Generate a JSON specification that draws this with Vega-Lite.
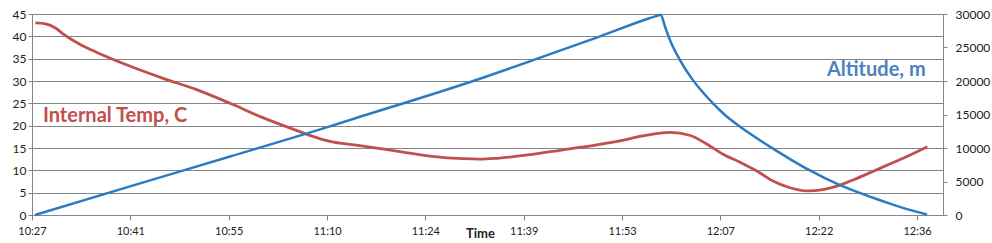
{
  "$schema": "https://vega.github.io/schema/vega-lite/v6.json",
  "width": 911,
  "height": 201,
  "autosize": {"type": "none"},
  "padding": {"left": 32, "top": 14, "right": 49, "bottom": 28},
  "background": "white",
  "config": {
    "view": {"stroke": null},
    "font": "Lato",
    "axis": {"labelFont": "Lato", "labelFontSize": 11, "labelColor": "#222222", "domainColor": "#868686", "tickColor": "#868686", "gridColor": "#868686", "titleFont": "Lato"}
  },
  "datasets": {
    "temp": [
      {"time": "2024-01-01T10:27:30", "temp": 43.0},
      {"time": "2024-01-01T10:29:00", "temp": 42.8},
      {"time": "2024-01-01T10:30:30", "temp": 41.8},
      {"time": "2024-01-01T10:31:30", "temp": 40.6},
      {"time": "2024-01-01T10:34:24", "temp": 37.9},
      {"time": "2024-01-01T10:36:30", "temp": 36.4},
      {"time": "2024-01-01T10:41:24", "temp": 33.3},
      {"time": "2024-01-01T10:46:12", "temp": 30.6},
      {"time": "2024-01-01T10:51:12", "temp": 28.0},
      {"time": "2024-01-01T10:56:00", "temp": 25.0},
      {"time": "2024-01-01T11:00:48", "temp": 21.8},
      {"time": "2024-01-01T11:05:48", "temp": 18.9},
      {"time": "2024-01-01T11:08:06", "temp": 17.6},
      {"time": "2024-01-01T11:10:36", "temp": 16.5},
      {"time": "2024-01-01T11:13:36", "temp": 15.8},
      {"time": "2024-01-01T11:15:30", "temp": 15.4},
      {"time": "2024-01-01T11:20:24", "temp": 14.3},
      {"time": "2024-01-01T11:25:18", "temp": 13.2},
      {"time": "2024-01-01T11:30:06", "temp": 12.6},
      {"time": "2024-01-01T11:32:36", "temp": 12.5},
      {"time": "2024-01-01T11:35:06", "temp": 12.7},
      {"time": "2024-01-01T11:39:54", "temp": 13.5},
      {"time": "2024-01-01T11:44:48", "temp": 14.6},
      {"time": "2024-01-01T11:49:42", "temp": 15.7},
      {"time": "2024-01-01T11:54:36", "temp": 17.1},
      {"time": "2024-01-01T11:56:00", "temp": 17.6},
      {"time": "2024-01-01T11:57:30", "temp": 18.0},
      {"time": "2024-01-01T12:00:24", "temp": 18.5},
      {"time": "2024-01-01T12:03:24", "temp": 17.8},
      {"time": "2024-01-01T12:05:48", "temp": 15.9},
      {"time": "2024-01-01T12:08:12", "temp": 13.6},
      {"time": "2024-01-01T12:10:42", "temp": 11.8},
      {"time": "2024-01-01T12:13:12", "temp": 9.8},
      {"time": "2024-01-01T12:15:30", "temp": 7.6},
      {"time": "2024-01-01T12:18:00", "temp": 6.1},
      {"time": "2024-01-01T12:20:30", "temp": 5.4},
      {"time": "2024-01-01T12:22:48", "temp": 5.7},
      {"time": "2024-01-01T12:25:18", "temp": 6.7},
      {"time": "2024-01-01T12:27:48", "temp": 8.2},
      {"time": "2024-01-01T12:30:12", "temp": 9.8},
      {"time": "2024-01-01T12:32:36", "temp": 11.4},
      {"time": "2024-01-01T12:35:06", "temp": 13.1},
      {"time": "2024-01-01T12:38:06", "temp": 15.3}
    ],
    "alt": [
      {"time": "2024-01-01T10:27:26", "alt": 0},
      {"time": "2024-01-01T10:41:21", "alt": 4270},
      {"time": "2024-01-01T10:56:00", "alt": 8730},
      {"time": "2024-01-01T11:10:36", "alt": 13230},
      {"time": "2024-01-01T11:13:36", "alt": 14200},
      {"time": "2024-01-01T11:31:36", "alt": 20000},
      {"time": "2024-01-01T11:41:00", "alt": 23330},
      {"time": "2024-01-01T11:50:12", "alt": 26670},
      {"time": "2024-01-01T11:57:30", "alt": 29400},
      {"time": "2024-01-01T11:58:40", "alt": 29780},
      {"time": "2024-01-01T11:59:04", "alt": 29900},
      {"time": "2024-01-01T11:59:41", "alt": 28130},
      {"time": "2024-01-01T12:00:25", "alt": 26130},
      {"time": "2024-01-01T12:01:53", "alt": 23130},
      {"time": "2024-01-01T12:03:47", "alt": 20130},
      {"time": "2024-01-01T12:04:49", "alt": 18800},
      {"time": "2024-01-01T12:06:43", "alt": 16670},
      {"time": "2024-01-01T12:08:29", "alt": 14930},
      {"time": "2024-01-01T12:10:23", "alt": 13400},
      {"time": "2024-01-01T12:12:52", "alt": 11650},
      {"time": "2024-01-01T12:15:31", "alt": 9900},
      {"time": "2024-01-01T12:18:00", "alt": 8350},
      {"time": "2024-01-01T12:20:38", "alt": 6800},
      {"time": "2024-01-01T12:25:19", "alt": 4450},
      {"time": "2024-01-01T12:30:09", "alt": 2580},
      {"time": "2024-01-01T12:32:38", "alt": 1700},
      {"time": "2024-01-01T12:35:08", "alt": 880},
      {"time": "2024-01-01T12:38:04", "alt": 70}
    ]
  },
  "encoding": {
    "x": {
      "field": "time",
      "type": "temporal",
      "scale": {"domain": [{"year": 2024, "month": 1, "date": 1, "hours": 10, "minutes": 27}, {"year": 2024, "month": 1, "date": 1, "hours": 12, "minutes": 40, "seconds": 24}]},
      "axis": {
        "title": "Time",
        "titleFontSize": 13,
        "titleFontWeight": "bold",
        "titleColor": "#222222",
        "titleBaseline": "middle",
        "titleY": 18,
        "titleX": 448,
        "titleAlign": "center",
        "format": "%H:%M",
        "grid": false,
        "tickSize": 5,
        "labelPadding": 5,
        "labelFlush": false,
        "labelOverlap": false,
        "values": [
          {"year": 2024, "month": 1, "date": 1, "hours": 10, "minutes": 27, "seconds": 0},
          {"year": 2024, "month": 1, "date": 1, "hours": 10, "minutes": 41, "seconds": 24},
          {"year": 2024, "month": 1, "date": 1, "hours": 10, "minutes": 55, "seconds": 48},
          {"year": 2024, "month": 1, "date": 1, "hours": 11, "minutes": 10, "seconds": 12},
          {"year": 2024, "month": 1, "date": 1, "hours": 11, "minutes": 24, "seconds": 36},
          {"year": 2024, "month": 1, "date": 1, "hours": 11, "minutes": 39, "seconds": 0},
          {"year": 2024, "month": 1, "date": 1, "hours": 11, "minutes": 53, "seconds": 24},
          {"year": 2024, "month": 1, "date": 1, "hours": 12, "minutes": 7, "seconds": 48},
          {"year": 2024, "month": 1, "date": 1, "hours": 12, "minutes": 22, "seconds": 12},
          {"year": 2024, "month": 1, "date": 1, "hours": 12, "minutes": 36, "seconds": 36}
        ]
      }
    }
  },
  "layer": [
    {
      "encoding": {
        "y": {
          "type": "quantitative",
          "scale": {"domain": [0, 45], "nice": false},
          "axis": {"orient": "left", "title": null, "values": [0, 5, 10, 15, 20, 25, 30, 35, 40, 45], "grid": true, "gridOpacity": 1, "tickSize": 4, "labelPadding": 2, "labelFontSize": 12}
        }
      },
      "layer": [
        {
          "data": {"name": "temp"},
          "mark": {"type": "line", "color": "#C0504D", "strokeWidth": 2.8, "interpolate": "monotone"},
          "encoding": {"y": {"field": "temp"}}
        },
        {
          "data": {"values": [{"time": "2024-01-01T10:28:36", "v": 22.2, "label": "Internal Temp, C"}]},
          "mark": {"type": "text", "align": "left", "baseline": "middle", "fontSize": 20, "fontWeight": "bold", "color": "#C0504D", "font": "Lato"},
          "encoding": {"y": {"field": "v"}, "text": {"field": "label"}}
        }
      ]
    },
    {
      "encoding": {
        "y": {
          "type": "quantitative",
          "scale": {"domain": [0, 30000], "nice": false},
          "axis": {"orient": "right", "title": null, "values": [0, 5000, 10000, 15000, 20000, 25000, 30000], "grid": false, "tickSize": 4, "labelPadding": 8, "labelFontSize": 12, "format": "d"}
        }
      },
      "layer": [
        {
          "data": {"name": "alt"},
          "mark": {"type": "line", "color": "#2B7BC4", "strokeWidth": 2.5, "interpolate": "monotone"},
          "encoding": {"y": {"field": "alt"}}
        },
        {
          "data": {"values": [{"time": "2024-01-01T12:23:24", "v": 21600, "label": "Altitude, m"}]},
          "mark": {"type": "text", "align": "left", "baseline": "middle", "fontSize": 20, "fontWeight": "bold", "color": "#4F81BD", "font": "Lato"},
          "encoding": {"y": {"field": "v"}, "text": {"field": "label"}}
        }
      ]
    }
  ],
  "resolve": {"scale": {"y": "independent"}}
}
